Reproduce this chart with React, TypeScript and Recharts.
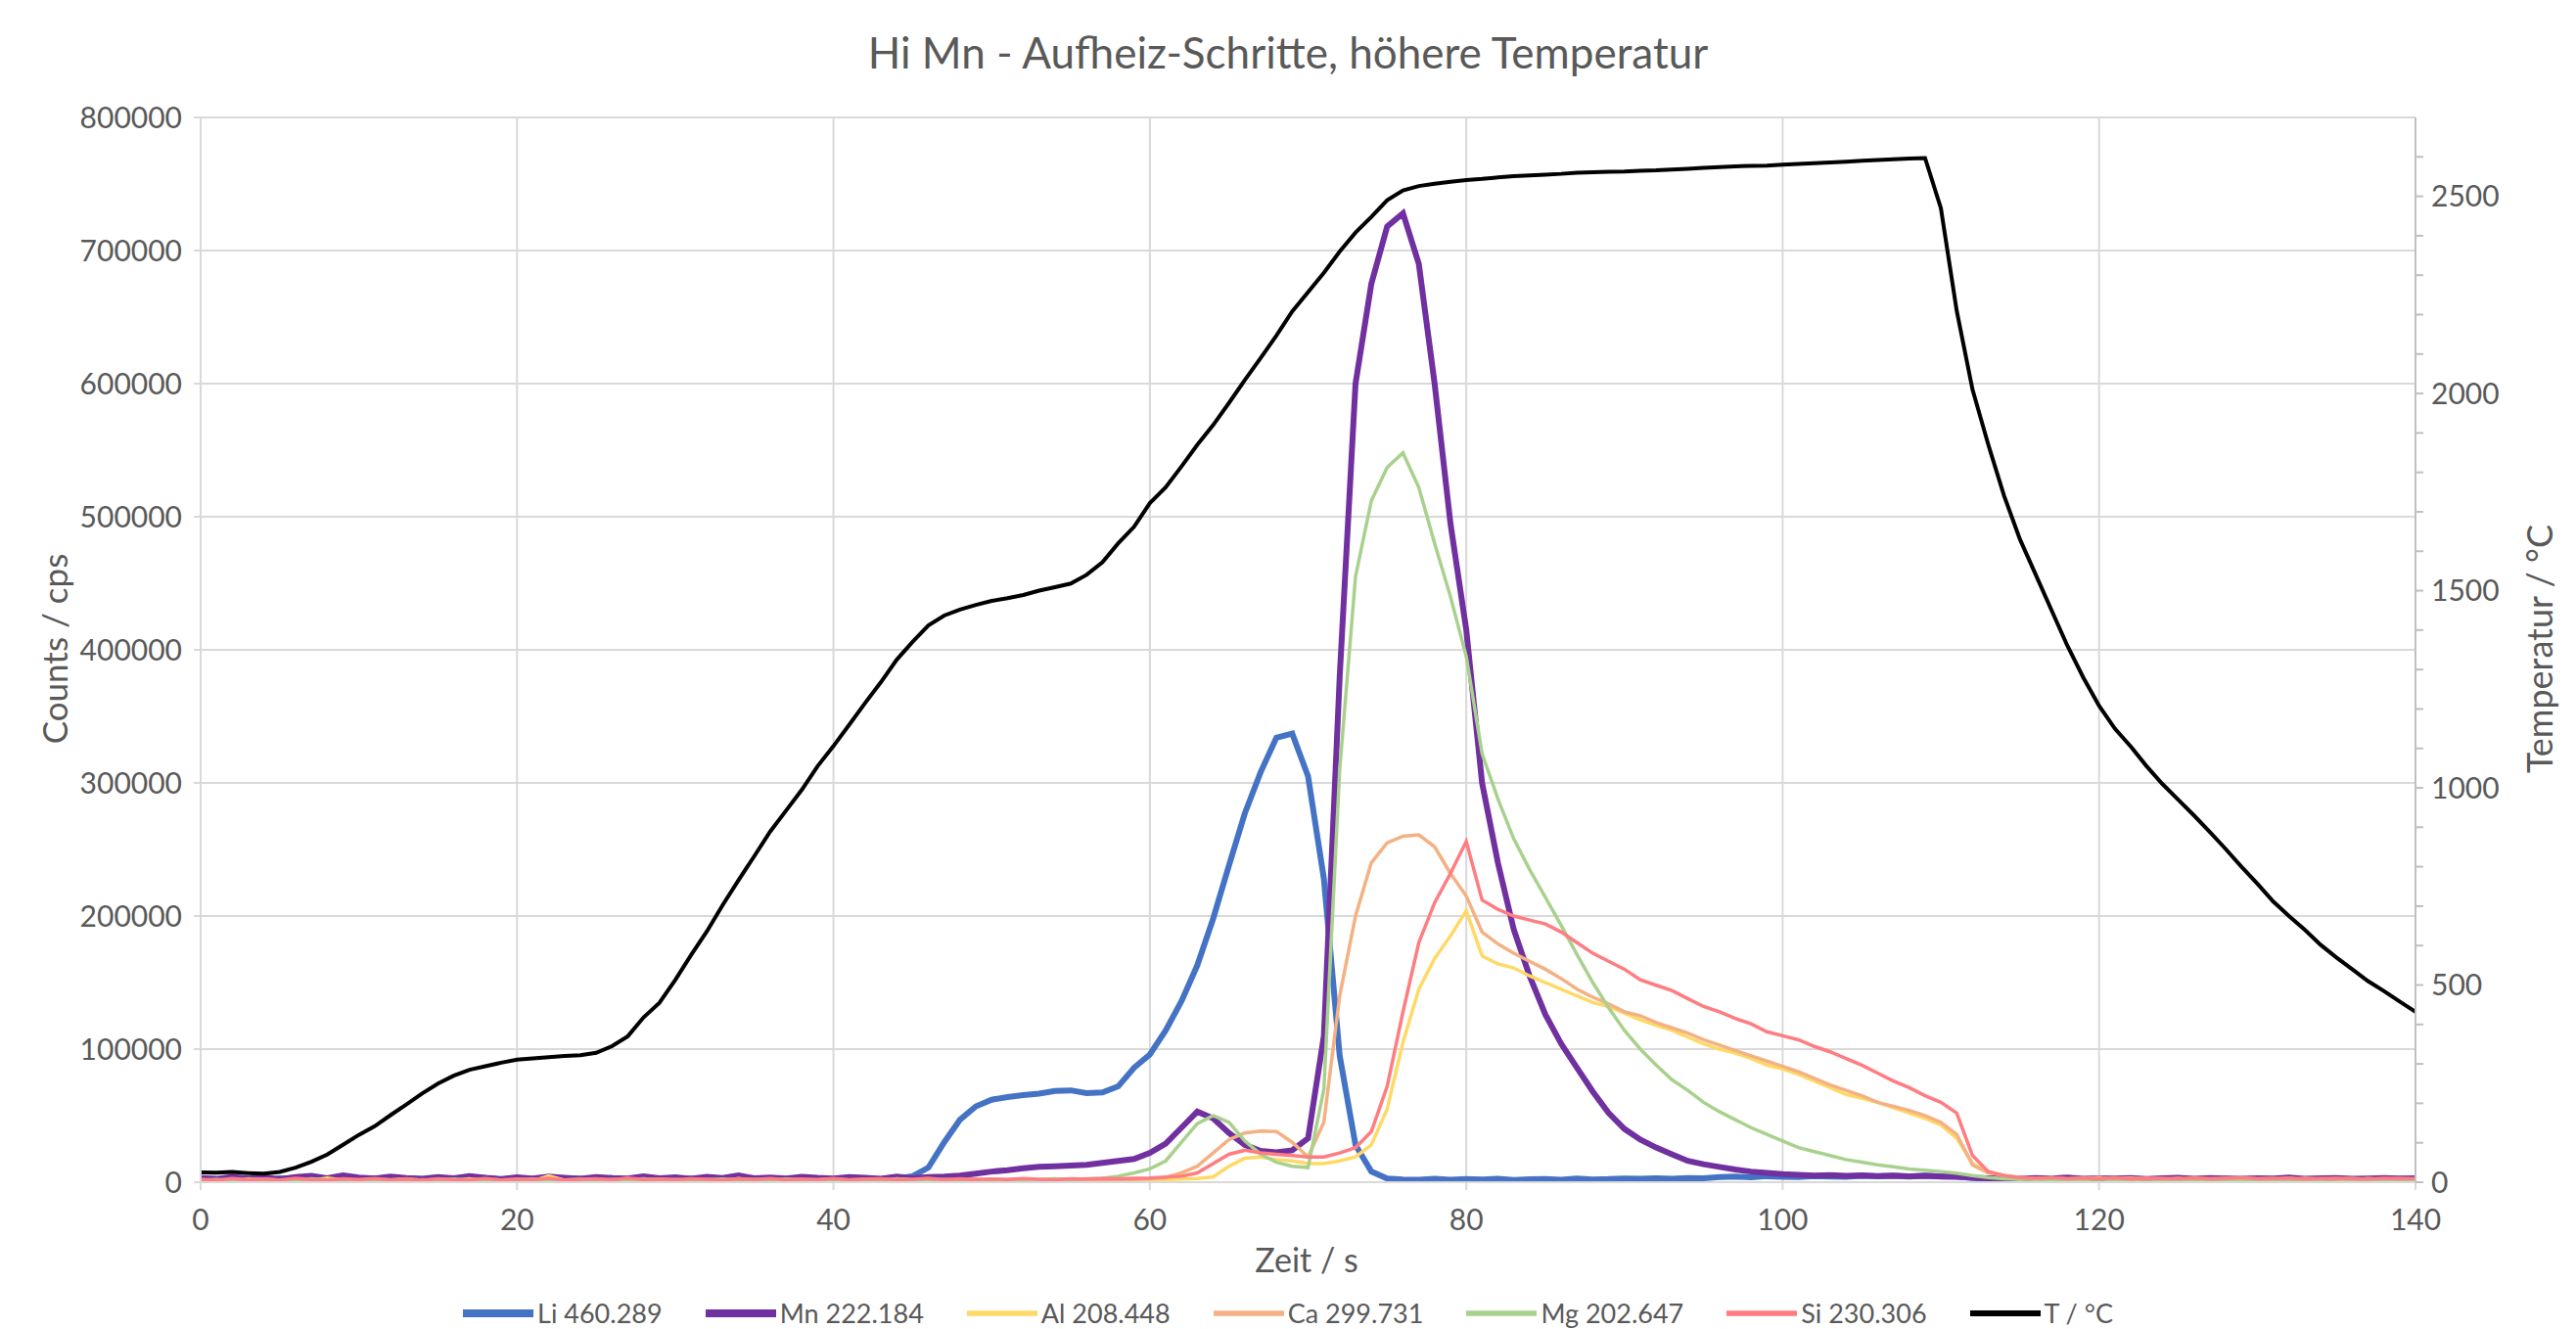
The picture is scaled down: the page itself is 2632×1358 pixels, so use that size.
import React from "react";
import { LineChart, Line, XAxis, YAxis, CartesianGrid } from "recharts";

// time in s, one sample per second
const times = [
  0, 1, 2, 3, 4, 5, 6, 7, 8, 9,
  10, 11, 12, 13, 14, 15, 16, 17, 18, 19,
  20, 21, 22, 23, 24, 25, 26, 27, 28, 29,
  30, 31, 32, 33, 34, 35, 36, 37, 38, 39,
  40, 41, 42, 43, 44, 45, 46, 47, 48, 49,
  50, 51, 52, 53, 54, 55, 56, 57, 58, 59,
  60, 61, 62, 63, 64, 65, 66, 67, 68, 69,
  70, 71, 72, 73, 74, 75, 76, 77, 78, 79,
  80, 81, 82, 83, 84, 85, 86, 87, 88, 89,
  90, 91, 92, 93, 94, 95, 96, 97, 98, 99,
  100, 101, 102, 103, 104, 105, 106, 107, 108, 109,
  110, 111, 112, 113, 114, 115, 116, 117, 118, 119,
  120, 121, 122, 123, 124, 125, 126, 127, 128, 129,
  130, 131, 132, 133, 134, 135, 136, 137, 138, 139,
  140,
];

// temperature in °C (right axis)
const tempC = [
  25, 24, 26, 23, 22, 26, 37, 52, 70, 95,
  120, 142, 170, 197, 225, 250, 270, 285, 294, 303,
  311, 314, 317, 320, 322, 328, 345, 370, 418, 455,
  513, 576, 636, 703, 766, 827, 889, 942, 995, 1055,
  1106, 1160, 1215, 1268, 1325, 1370, 1412, 1437, 1452, 1464,
  1474, 1481, 1489, 1500, 1509, 1518, 1540, 1572, 1620, 1662,
  1722, 1762, 1815, 1870, 1920, 1976, 2034, 2090, 2147, 2208,
  2257, 2306, 2360, 2408, 2448, 2490, 2515, 2526, 2532, 2537,
  2541, 2544, 2548, 2551, 2553, 2555, 2557, 2560, 2561, 2562,
  2563, 2565, 2566, 2568, 2570, 2572, 2574, 2576, 2577, 2578,
  2580, 2582, 2584, 2586, 2588, 2590, 2592, 2594, 2596, 2597,
  2470, 2210, 2010, 1870, 1740, 1630, 1540, 1450, 1360, 1280,
  1208, 1150, 1105, 1055, 1010, 970, 930, 888, 845, 800,
  757, 712, 675, 640, 602, 570, 540, 510, 485, 458,
  432,
];

const li460 = [
  2600, 1800, 3100, 2200, 1500, 2900, 2400, 3500, 1900, 2700,
  2100, 3000, 1700, 2500, 2300, 1600, 2800, 2000, 3200, 1900,
  2400, 2200, 1700, 2900, 2500, 2000, 3100, 1800, 2300, 2600,
  1900, 2800, 2100, 2400, 3300, 2000, 1700, 2600, 2200, 3000,
  1800, 2500, 2900, 2300, 2700, 4500, 11000, 30000, 47000, 57000,
  62000, 64000, 65500, 66500, 68500, 69000, 67000, 67500, 72000, 86000,
  96000, 114000, 136000, 163000, 198000, 238000, 277000, 308000, 334000, 337000,
  305000, 228000, 95000, 28000, 8000, 2800, 2100, 1800, 2500, 1900,
  2300, 2000, 2600, 1700, 2200, 2400, 1900, 2700, 2100, 2300,
  2800, 2500, 3000, 2600, 3200, 2900, 3800, 4200, 3600, 4500,
  4100, 3900, 4600, 4300, 4000, 4800, 4400, 4700, 4200, 5000,
  4500, 4300, 3200, 2600, 2100, 2400, 1900, 2200, 2700, 2000,
  2300, 1800, 2500, 2100, 1700, 2400, 2200, 1900, 2600, 2000,
  2300, 1800, 2500, 2100, 1900, 2400, 2000, 2200, 1800, 2300,
  2100,
];

const mn222 = [
  3200, 2500, 4100, 2800, 3600, 2300, 3900, 4800, 3000, 5200,
  3500, 2700, 4300, 3100, 2600, 3800, 2900, 4500, 3300, 2400,
  3700, 2800, 4200, 3400, 2600, 3900, 3100, 2700, 4400, 3000,
  3600, 2500, 4000, 3200, 5100, 2900, 3500, 2700, 4100, 3300,
  2800, 3900, 3400, 2600, 4300, 3000, 3800, 4200, 5000, 6500,
  8000, 9000, 10500, 11500, 12000, 12500, 13000, 14500, 16000, 17500,
  22000, 29000, 41000, 53000, 48000, 37000, 28000, 23500, 22500, 24000,
  33000, 110000, 380000, 600000, 675000, 718000, 728000, 690000, 600000, 495000,
  415000, 300000, 240000, 190000, 155000, 126000, 104000, 86000, 68000, 52000,
  40000, 32000, 26000, 21000, 16000, 13500, 11500, 9500, 8000, 7000,
  6000, 5500, 5000, 5300, 4800, 5100, 4600, 4900, 4400, 4700,
  4300, 4000, 3400, 2900, 3300, 2600, 3100, 2800, 3500, 2500,
  3000, 2700, 3200, 2400, 2900, 3300, 2600, 3100, 2800, 2500,
  3000, 2700, 3400, 2600, 2900, 3200, 2500, 2800, 3100, 2700,
  2900,
];

const al208 = [
  1200, 1800, 900, 2400, 1500, 1100, 2000, 1300, 3200, 1600,
  1000, 1900, 1400, 2200, 1100, 1700, 1300, 2600, 1200, 1500,
  1800, 1000, 4800, 1600, 1200, 2100, 1400, 1700, 1100, 2300,
  1500, 1300, 1900, 1000, 2700, 1400, 1200, 1800, 1600, 1100,
  2000, 1300, 1500, 1200, 2500, 1700, 1000, 1400, 1900, 1300,
  1600, 1100, 1800, 1400, 1200, 2200, 1500, 1300, 1700, 1600,
  1900, 2100, 2400, 2800, 4000, 12000, 18000, 19000, 17000, 16000,
  14000, 14000, 16000, 19000, 28000, 55000, 105000, 145000, 168000, 185000,
  204000, 170000, 164000, 161000, 155000, 150000, 145000, 140000, 135000, 132000,
  127000, 122000, 118000, 114000, 109000, 104000, 100000, 97000, 93000, 88000,
  85000, 81000, 76000, 71000, 66000, 63000, 60000, 56000, 52000, 48000,
  43000, 33000, 14000, 8000, 5000, 3200, 2100, 2800, 1900, 2500,
  3400, 2200, 1800, 2600, 2000, 2900, 1700, 2300, 2700, 1900,
  2400, 2100, 3000, 1800, 2500, 2200, 1900, 2700, 2000, 2300,
  2100,
];

const ca299 = [
  1000, 1400, 800, 1700, 1200, 900, 1500, 1100, 1800, 1300,
  900, 1600, 1200, 1000, 1900, 1300, 1100, 1500, 800, 1400,
  1200, 1700, 1000, 1400, 1100, 1600, 900, 1300, 1800, 1000,
  1500, 1200, 1000, 1700, 1300, 900, 1400, 1600, 1100, 1300,
  1000, 1500, 1200, 1800, 1100, 1400, 1300, 1000, 1600, 1200,
  1500, 1100, 1700, 1300, 1400, 1200, 1900, 1500, 1700, 2000,
  2500, 3500, 7000, 12000, 22000, 32000, 37000, 38500, 38000, 30000,
  19000, 45000, 140000, 200000, 240000, 255000, 260000, 261000, 252000, 232000,
  215000, 188000, 179000, 172000, 166000, 160000, 153000, 145000, 139000, 134000,
  128000, 125000, 120000, 116000, 112000, 107000, 103000, 99000, 95000, 91000,
  87000, 83000, 78000, 73000, 69000, 65000, 60000, 57000, 54000, 50000,
  45000, 36000, 13000, 7000, 5000, 3500, 2800, 3300, 2600, 3100,
  2400, 2900, 3200, 2500, 2800, 2200, 3000, 2600, 2300, 2900,
  2500, 2700, 2100, 3000, 2400, 2600, 2800, 2200, 2500, 2700,
  2300,
];

const mg202 = [
  1500, 2100, 1200, 1800, 2400, 1400, 1900, 2600, 1600, 2200,
  1300, 2000, 1700, 2500, 1500, 1800, 2300, 1400, 2100, 1600,
  1900, 2400, 1500, 1700, 2200, 1300, 2000, 1800, 2500, 1600,
  2100, 1400, 1900, 2300, 1700, 2000, 1500, 2400, 1800, 1600,
  2200, 1700, 2000, 1500, 2300, 1900, 1600, 2100, 1800, 2400,
  1700, 2000, 2200, 1800, 2500, 2100, 2600, 3000, 4500, 7000,
  10000, 16000, 30000, 44000, 50000, 45000, 31000, 21000, 15000, 12000,
  11000, 70000, 310000, 455000, 512000, 537000, 548000, 522000, 480000, 440000,
  395000, 322000, 288000, 258000, 235000, 214000, 193000, 171000, 150000, 131000,
  114000, 100000, 88000, 77000, 69000, 60000, 53000, 47000, 41000, 36000,
  31000, 26000, 23000, 20000, 17000, 15000, 13000, 11500, 10000, 9000,
  8000, 6800, 5000, 3500, 2600, 2100, 2400, 1800, 2200, 1900,
  2300, 1700, 2000, 2500, 1600, 2100, 1900, 2400, 1800, 2200,
  2000, 1700, 2300, 1900, 2100, 2600, 1800, 2000, 2200, 1900,
  2100,
];

const si230 = [
  2200, 1500, 2800, 1900, 2400, 1600, 3000, 2100, 1700, 2500,
  2000, 2700, 1800, 2300, 1500, 2600, 2100, 1900, 2800, 1600,
  2400, 2000, 2900, 1700, 2200, 2500, 1800, 3100, 2000, 2300,
  1900, 2600, 2200, 1700, 2500, 2100, 2800, 1800, 2400, 2000,
  2700, 1900, 2300, 2600, 2000, 2200, 2900, 1800, 2500, 2100,
  2400, 2000, 2700, 2200, 1900, 2600, 2300, 2800, 2500, 3000,
  3200, 3800, 4500, 7000, 14000, 21000, 24000, 22000, 21000, 20000,
  19000, 19000, 22000, 26000, 38000, 72000, 128000, 180000, 210000, 232000,
  256000, 212000, 205000, 200000, 197000, 194000, 188000, 180000, 172000, 166000,
  160000, 152000, 148000, 144000, 138000, 132000, 128000, 123000, 119000, 113000,
  110000, 107000, 102000, 98000, 93000, 88000, 82000, 76000, 71000, 65000,
  60000, 52000, 20000, 8000, 5000, 3500, 2900, 3400, 2600, 3100,
  2700, 3300, 2400, 3000, 2800, 2500, 3200, 2600, 2900, 3400,
  2500, 2800, 3100, 2400, 2700, 3000, 2600, 2300, 2900, 2500,
  2700,
];

const timeTicks = [0, 20, 40, 60, 80, 100, 120, 140];
const countTicks = [0, 100000, 200000, 300000, 400000, 500000, 600000, 700000, 800000];
const tempTicks = [
  0, 100, 200, 300, 400, 500, 600, 700, 800, 900,
  1000, 1100, 1200, 1300, 1400, 1500, 1600, 1700, 1800, 1900,
  2000, 2100, 2200, 2300, 2400, 2500, 2600,
];

const series = [
  { key: "li", name: "Li 460.289", color: "#4472C4", width: 6, axis: "counts" },
  { key: "mn", name: "Mn 222.184", color: "#7030A0", width: 6, axis: "counts" },
  { key: "al", name: "Al 208.448", color: "#FFD966", width: 3.5, axis: "counts" },
  { key: "ca", name: "Ca 299.731", color: "#F4B183", width: 3.5, axis: "counts" },
  { key: "mg", name: "Mg 202.647", color: "#A9D18E", width: 3.5, axis: "counts" },
  { key: "si", name: "Si 230.306", color: "#FF7C80", width: 3.5, axis: "counts" },
  { key: "temp", name: "T / °C", color: "#000000", width: 4, axis: "temp" },
];

const rows = times.map((t, i) => ({
  t,
  li: li460[i],
  mn: mn222[i],
  al: al208[i],
  ca: ca299[i],
  mg: mg202[i],
  si: si230[i],
  temp: tempC[i],
}));

const FONT = "Lato, 'Open Sans', sans-serif";
const TEXT = "#595959";
const GRID = "#D9D9D9";

const tickStyle = { fill: TEXT, fontSize: 30, fontFamily: FONT };

export default function App() {
  return (
    <div
      style={{
        position: "absolute",
        left: 0,
        top: 0,
        width: 2632,
        height: 1358,
        background: "#fff",
        fontFamily: FONT,
        color: TEXT,
      }}
    >
      <div
        style={{
          position: "absolute",
          left: 0,
          width: 2632,
          top: 27,
          textAlign: "center",
          fontSize: 44,
        }}
      >
        Hi Mn - Aufheiz-Schritte, höhere Temperatur
      </div>

      <LineChart
        width={2632}
        height={1358}
        data={rows}
        margin={{ top: 120, right: 54, left: 55, bottom: 90 }}
      >
        <CartesianGrid stroke={GRID} strokeWidth={2} yAxisId="counts" />
        <XAxis
          dataKey="t"
          type="number"
          domain={[0, 140]}
          ticks={timeTicks}
          height={60}
          stroke={GRID}
          strokeWidth={2}
          tickSize={8}
          tickMargin={20}
          tick={tickStyle}
        />
        <YAxis
          yAxisId="counts"
          domain={[0, 800000]}
          ticks={countTicks}
          width={150}
          stroke={GRID}
          strokeWidth={2}
          tickSize={7}
          tickMargin={12}
          tick={tickStyle}
        />
        <YAxis
          yAxisId="temp"
          orientation="right"
          domain={[0, 2700]}
          ticks={tempTicks}
          interval={0}
          width={110}
          stroke="#BFBFBF"
          strokeWidth={2}
          tickSize={8}
          tickMargin={8}
          tick={tickStyle}
          tickFormatter={(v: number) => (v % 500 === 0 ? String(v) : "")}
        />
        {series.map((s) => (
          <Line
            key={s.key}
            yAxisId={s.axis}
            type="linear"
            dataKey={s.key}
            name={s.name}
            stroke={s.color}
            strokeWidth={s.width}
            dot={false}
            activeDot={false}
            isAnimationActive={false}
          />
        ))}
      </LineChart>

      <div
        style={{
          position: "absolute",
          left: 55,
          top: 663,
          transform: "translate(-50%, -50%) rotate(-90deg)",
          whiteSpace: "nowrap",
          fontSize: 35,
        }}
      >
        Counts / cps
      </div>
      <div
        style={{
          position: "absolute",
          left: 2594,
          top: 663,
          transform: "translate(-50%, -50%) rotate(-90deg)",
          whiteSpace: "nowrap",
          fontSize: 36,
        }}
      >
        Temperatur / °C
      </div>
      <div
        style={{
          position: "absolute",
          left: 1335,
          top: 1286,
          transform: "translate(-50%, -50%)",
          whiteSpace: "nowrap",
          fontSize: 34,
        }}
      >
        Zeit / s
      </div>

      <div
        style={{
          position: "absolute",
          left: 0,
          width: 2632,
          top: 1324,
          display: "flex",
          justifyContent: "center",
          gap: 44,
          fontSize: 27,
          lineHeight: "36px",
        }}
      >
        {series.map((s) => (
          <div key={s.key} style={{ display: "flex", alignItems: "center", gap: 4 }}>
            <svg width={72} height={12}>
              <line x1={0} y1={6} x2={72} y2={6} stroke={s.color} strokeWidth={s.width + 2} />
            </svg>
            <span>{s.name}</span>
          </div>
        ))}
      </div>
    </div>
  );
}
